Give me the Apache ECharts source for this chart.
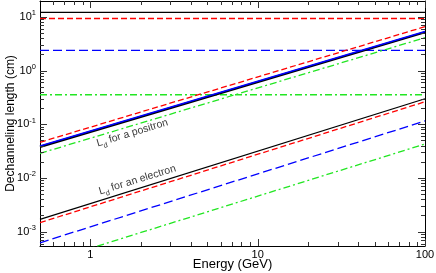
<!DOCTYPE html>
<html>
<head>
<meta charset="utf-8">
<script src="https://cdn.jsdelivr.net/npm/echarts@6/dist/echarts.min.js"></script>
<style>html,body{margin:0;padding:0;background:#fff}#c{width:436px;height:273px}</style>
</head>
<body>
<div id="c"></div>
<script>
// ---- data ----
const energy = [0.5, 100];                 // GeV, line endpoints
// horizontal levels (cm)
const levelBlack = [12.1, 12.1];
const levelRed = [9.3, 9.3];
const levelBlue = [2.38, 2.38];
const levelGreen = [0.354, 0.354];
// positron Ld lines
const posBlack = [0.0378, 5.15];
const posBlue = [0.0392, 5.35];
const posRed = [0.0461, 6.55];
const posGreen = [0.0287, 4.08];
// electron Ld lines
const eleBlack = [0.00169, 0.298];
const eleRed = [0.00147, 0.262];
const eleBlue = [0.00062, 0.115];
const eleGreen = [0.00025, 0.0428];
// annotations [energy, length]
const notePositron = [1.78, 0.0686];
const noteElectron = [1.91, 0.00914];
// axes
const xRange = [0.5, 100];
const yRange = [0.00054, 19.7];
const xMajor = [1, 10, 100];
const xMinor = [0.6, 0.7, 0.8, 0.9, 2, 3, 4, 5, 6, 7, 8, 9, 20, 30, 40, 50, 60, 70, 80, 90];
const yMajor = [0.001, 0.01, 0.1, 1, 10];
const yMinor = [0.0006, 0.0007, 0.0008, 0.0009,
  0.002, 0.003, 0.004, 0.005, 0.006, 0.007, 0.008, 0.009,
  0.02, 0.03, 0.04, 0.05, 0.06, 0.07, 0.08, 0.09,
  0.2, 0.3, 0.4, 0.5, 0.6, 0.7, 0.8, 0.9,
  2, 3, 4, 5, 6, 7, 8, 9];

const FONT = 'Liberation Sans, Arial, Helvetica, sans-serif';
const MAJOR_LEN = 7, MINOR_LEN = 4;

function pts(xs, ys) { return xs.map((x, i) => [x, ys[i]]); }

const baseAxis = (pos, range) => ({
  type: 'log', position: pos, min: range[0], max: range[1],
  axisLine: { show: true, lineStyle: { color: '#000', width: 1 } },
  axisTick: { show: false },
  axisLabel: { show: false },
  splitLine: { show: false },
  nameMoveOverlap: false
});

const xAxes = [
  Object.assign(baseAxis('bottom', xRange), {
    axisLabel: { show: true, customValues: xMajor, margin: 3, fontFamily: FONT, fontSize: 11, color: '#000',
      formatter: v => String(v) },
    name: 'Energy (GeV)', nameLocation: 'middle', nameGap: 12,
    nameTextStyle: { fontFamily: FONT, fontSize: 13, color: '#000' }
  }),
  baseAxis('top', xRange)
];
const yAxes = [
  Object.assign(baseAxis('left', yRange), {
    axisLabel: { show: true, customValues: yMajor, margin: 4, fontFamily: FONT, fontSize: 11, color: '#000',
      lineHeight: 15,
      formatter: v => '10{sup|' + Math.round(Math.log10(v)) + '}',
      rich: { sup: { fontFamily: FONT, fontSize: 7.5, color: '#000', verticalAlign: 'top', lineHeight: 8 } } },
    name: 'Dechanneling length (cm)', nameLocation: 'middle', nameGap: 23,
    nameTextStyle: { fontFamily: FONT, fontSize: 12, color: '#000' }
  }),
  baseAxis('right', yRange)
];

function line(ys, color, width, type, z) {
  return {
    type: 'line', data: pts(energy, ys), xAxisIndex: 0, yAxisIndex: 0,
    symbol: 'none', silent: true, clip: true, z: z || 2,
    lineStyle: { color: color, width: width, type: type }
  };
}

const RED = '#ff0000', BLUE = '#0000ff', GREEN = '#22e622', BLACK = '#000000';
const DASH_R = [6, 3], DASH_B = [9, 4], DASH_G = [7, 3, 2, 3];

function note(p, text) {
  return {
    type: 'scatter', data: [p], symbolSize: 0, silent: true, z: 5,
    label: {
      show: true, position: 'inside', rotate: 17, color: '#000',
      fontFamily: FONT, fontSize: 10.5, lineHeight: 16,
      formatter: text,
      rich: { sub: { fontFamily: FONT, fontSize: 7.5, color: '#000', verticalAlign: 'bottom', lineHeight: 9 } }
    }
  };
}

// mirrored inward tick marks on all four sides, placed through the axis scales
const tickData = []
  .concat(xMajor.map(v => ({ value: [v, yRange[0]], kind: 'x', len: MAJOR_LEN })))
  .concat(xMinor.map(v => ({ value: [v, yRange[0]], kind: 'x', len: MINOR_LEN })))
  .concat(yMajor.map(v => ({ value: [xRange[0], v], kind: 'y', len: MAJOR_LEN })))
  .concat(yMinor.map(v => ({ value: [xRange[0], v], kind: 'y', len: MINOR_LEN })));

const tickSeries = {
  type: 'custom', silent: true, clip: false, z: 10,
  xAxisIndex: 0, yAxisIndex: 0,
  data: tickData.map(d => d.value),
  renderItem: function (params, api) {
    const d = tickData[params.dataIndex];
    const len = d.len;
    const st = { stroke: '#333', lineWidth: 1, fill: null };
    if (d.kind === 'x') {
      const v = d.value[0];
      const b = api.coord([v, yRange[0]]);
      const t = api.coord([v, yRange[1]]);
      const x = Math.round(b[0]) + 0.5;
      return { type: 'group', children: [
        { type: 'line', shape: { x1: x, y1: b[1], x2: x, y2: b[1] - len }, style: st },
        { type: 'line', shape: { x1: x, y1: t[1], x2: x, y2: t[1] + len }, style: st }
      ] };
    }
    const v = d.value[1];
    const l = api.coord([xRange[0], v]);
    const r = api.coord([xRange[1], v]);
    const y = Math.round(l[1]) + 0.5;
    return { type: 'group', children: [
      { type: 'line', shape: { x1: l[0], y1: y, x2: l[0] + len, y2: y }, style: st },
      { type: 'line', shape: { x1: r[0], y1: y, x2: r[0] - len, y2: y }, style: st }
    ] };
  }
};

const series = [
  line(levelGreen, GREEN, 1.3, DASH_G),
  line(levelBlue, BLUE, 1.3, DASH_B),
  line(levelRed, RED, 1.3, DASH_R),
  line(levelBlack, BLACK, 1.3, 'solid'),
  line(eleGreen, GREEN, 1.3, DASH_G),
  line(eleBlue, BLUE, 1.3, DASH_B),
  line(eleRed, RED, 1.3, DASH_R),
  line(eleBlack, BLACK, 1.3, 'solid'),
  line(posGreen, GREEN, 1.3, DASH_G),
  line(posRed, RED, 1.3, DASH_R),
  line(posBlack, BLACK, 2.2, 'solid'),
  line(posBlue, BLUE, 1.6, 'solid', 3),
  note(notePositron, 'L{sub|d} for a positron'),
  note(noteElectron, 'L{sub|d} for an electron'),
  tickSeries
];

const chart = echarts.init(document.getElementById('c'), null, { renderer: 'canvas' });
chart.setOption({
  animation: false,
  grid: { left: 40, right: 11, top: 1, bottom: 27, outerBoundsMode: 'none' },
  xAxis: xAxes,
  yAxis: yAxes,
  series: series
});
</script>
</body>
</html>
